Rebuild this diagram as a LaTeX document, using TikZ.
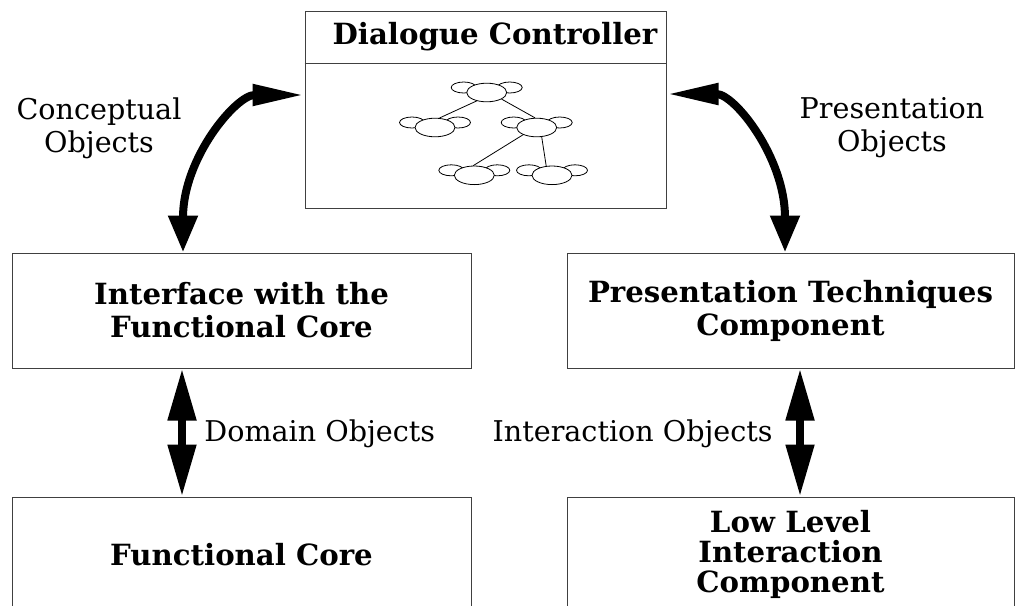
\documentclass[tikz,border=0pt]{standalone}
\usepackage{fontspec}
\setmainfont{DejaVu Serif}
\usepackage{tikz}
\usetikzlibrary{arrows.meta, positioning, shapes.geometric}

% one drawing of a tree node: two ears behind an ellipse
\newcommand{\treeblob}[3]{%
  \draw[link] (#2-23,#3-5) ellipse [x radius=12.5, y radius=5.5];
  \draw[link] (#2+23,#3-5) ellipse [x radius=12.5, y radius=5.5];
  \node[blob] (#1) at (#2,#3) {};
}

\begin{document}
\begin{tikzpicture}[x=0.5pt, y=-0.5pt,
  box/.style={rectangle, draw=black!75, line width=0.5pt, inner sep=0pt,
              align=center, font=\fontsize{14.6pt}{16.5pt}\selectfont\bfseries},
  heading/.style={inner sep=0pt, font=\fontsize{14.6pt}{16.5pt}\selectfont\bfseries},
  caption/.style={inner sep=0pt, align=center,
                  font=\fontsize{14.3pt}{16.5pt}\selectfont},
  blob/.style={ellipse, draw, line width=0.4pt, fill=white, inner sep=0pt,
               minimum width=20pt, minimum height=9.3pt},
  link/.style={line width=0.4pt},
  flow/.style={line width=4pt,
               {Triangle[length=26pt,width=13.5pt]}-{Triangle[length=26pt,width=13.5pt]}},
  curvy/.style={line width=4pt,
               {Triangle[length=18.5pt,width=14pt]}-{Triangle[length=26pt,width=10pt]}}
]
  \useasboundingbox (0,0) rectangle (1015,605);

  % boxes
  \node[box, minimum width=180.5pt, minimum height=98.5pt] (dc) at (485.5,109.5) {};
  \node[heading] (dctitle) at (495,37) {Dialogue Controller};
  \coordinate (sep) at (0,63);
  \draw[draw=black!75, line width=0.5pt] (dc.west |- sep) -- (dc.east |- sep);

  \node[box, minimum width=229.5pt, minimum height=57.5pt] (ifc) at (241.5,310.5)
    {Interface with the\\Functional Core};
  \node[box, minimum width=223.5pt, minimum height=57.5pt] (ptc) at (790.5,310.5)
    {Presentation Techniques\\Component};
  \node[box, minimum width=229.5pt, minimum height=57.5pt] (fc) at (241.5,554.5)
    {Functional Core};
  \node[box, minimum width=223.5pt, minimum height=57.5pt,
        font=\fontsize{14.6pt}{15pt}\selectfont\bfseries] (llic) at (790.5,554.5)
    {Low Level\\Interaction\\Component};

  % the tree inside the controller
  \treeblob{troot}{486.7}{92.5}
  \treeblob{tleft}{435}{127.5}
  \treeblob{tright}{536.7}{127.5}
  \treeblob{tlow}{474.3}{175.3}
  \treeblob{tlast}{552}{175.3}
  \draw[link] (troot.220) -- (tleft.65);
  \draw[link] (troot.336) -- (tright.100);
  \draw[link] (tright.208) -- (tlow.96);
  \draw[link] (tright.298) -- (tlast.122);

  % labels
  \node[caption] (conc) at (99,128) {Conceptual\\Objects};
  \node[caption] (pres) at (892,128) {Presentation\\Objects};
  \node[caption, anchor=base west] (dom) at (204,441) {Domain Objects};
  \node[caption, anchor=base east] (inter) at (773,441) {Interaction Objects};

  % arrows
  \draw[curvy] ([xshift=-29.25pt]ifc.north) .. controls +(0,-95) and +(-68,0) ..
    ([yshift=7.25pt]dc.west);
  \draw[curvy] ([xshift=-2.75pt]ptc.north) .. controls +(0,-95) and +(68,0) ..
    ([yshift=7.75pt]dc.east);
  \draw[flow] ([xshift=-29.75pt]ifc.south) -- ([xshift=-29.75pt]fc.north);
  \draw[flow] ([xshift=4.75pt]ptc.south) -- ([xshift=4.75pt]llic.north);
\end{tikzpicture}
\end{document}
